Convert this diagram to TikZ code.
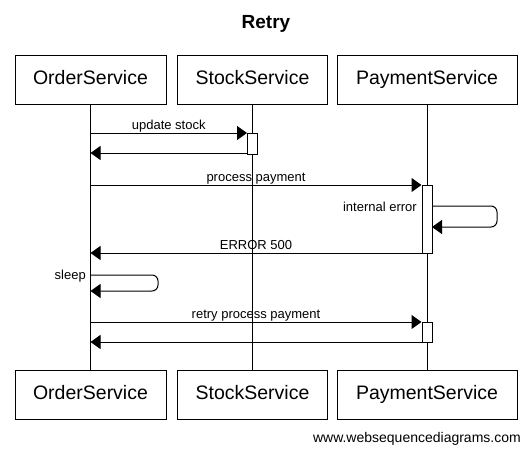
\documentclass[tikz,border=0pt]{standalone}
\usepackage{fontspec}
\setmainfont{Liberation Sans}
\usetikzlibrary{arrows.meta}
\begin{document}
\begin{tikzpicture}[x=1pt,y=-1pt,
  part/.style={draw,line width=1pt,minimum height=49pt,inner sep=0pt,text height=14pt,text depth=4pt,font=\fontsize{19.5}{22}\selectfont},
  act/.style={draw,fill=white,line width=1pt,minimum width=10pt,inner sep=0pt},
  msg/.style={line width=1pt,-{Triangle[length=10pt,width=14pt]}},
  lbl/.style={font=\fontsize{13}{15}\selectfont,inner sep=1pt,text height=9.5pt,text depth=2.5pt},
  life/.style={line width=1pt}]
\useasboundingbox (0,0) rectangle (531,453);
\node[font=\bfseries\fontsize{19}{22}\selectfont] (title) at (266,24) {Retry};
% participants top
\node[part,minimum width=151pt] (ot) at (90.5,79.5) {OrderService};
\node[part,minimum width=150pt] (st) at (252.5,79.5) {StockService};
\node[part,minimum width=180pt] (pt) at (427,79.5) {PaymentService};
% participants bottom
\node[part,minimum width=151pt] (ob) at (90.5,394.5) {OrderService};
\node[part,minimum width=150pt] (sb) at (252.5,394.5) {StockService};
\node[part,minimum width=180pt] (pb) at (427,394.5) {PaymentService};
% lifelines
\draw[life] (ot.south) -- (ob.north);
\draw[life] (st.south) -- (sb.north);
\draw[life] (pt.south) -- (pb.north);
% activations
\node[act,minimum height=21pt] (sa) at (252.5,143.5) {};
\node[act,minimum height=68pt] (pa1) at (427,219) {};
\node[act,minimum height=20pt] (pa2) at (427,332) {};
% coordinates on OrderService lifeline
\coordinate (o1) at (90.5,133);
\coordinate (o2) at (90.5,153);
\coordinate (o3) at (90.5,185);
\coordinate (o4) at (90.5,253);
\coordinate (o5) at (90.5,275);
\coordinate (o6) at (90.5,291);
\coordinate (o7) at (90.5,322);
\coordinate (o8) at (90.5,342);
% update stock
\draw[msg] (o1) -- node[lbl,above] {update stock} (o1-|sa.west);
\draw[msg] (o2-|sa.west) -- (o2);
% process payment
\draw[msg] (o3) -- node[lbl,above] {process payment} (o3-|pa1.west);
% internal error self message
\coordinate (ie1) at (432,206);
\coordinate (ie2) at (432,227);
\draw[msg,rounded corners=6pt] (ie1) -- (497,206) -- (497,227) -- (ie2);
\node[lbl,anchor=east] (iel) at (418,208) {internal error};
% ERROR 500
\draw[msg] (o4-|pa1.west) -- node[lbl,above] {ERROR 500} (o4);
% sleep
\draw[msg,rounded corners=6pt] (o5) -- (158,275) -- (158,291) -- (o6);
\node[lbl,anchor=east] (sl) at (87,276) {sleep};
% retry
\draw[msg] (o7) -- node[lbl,above] {retry process payment} (o7-|pa2.west);
\draw[msg] (o8-|pa2.west) -- (o8);
% footer
\node[font=\fontsize{14}{16}\selectfont,anchor=east,inner sep=0pt] (ft) at (521,439) {www.websequencediagrams.com};
\end{tikzpicture}
\end{document}
